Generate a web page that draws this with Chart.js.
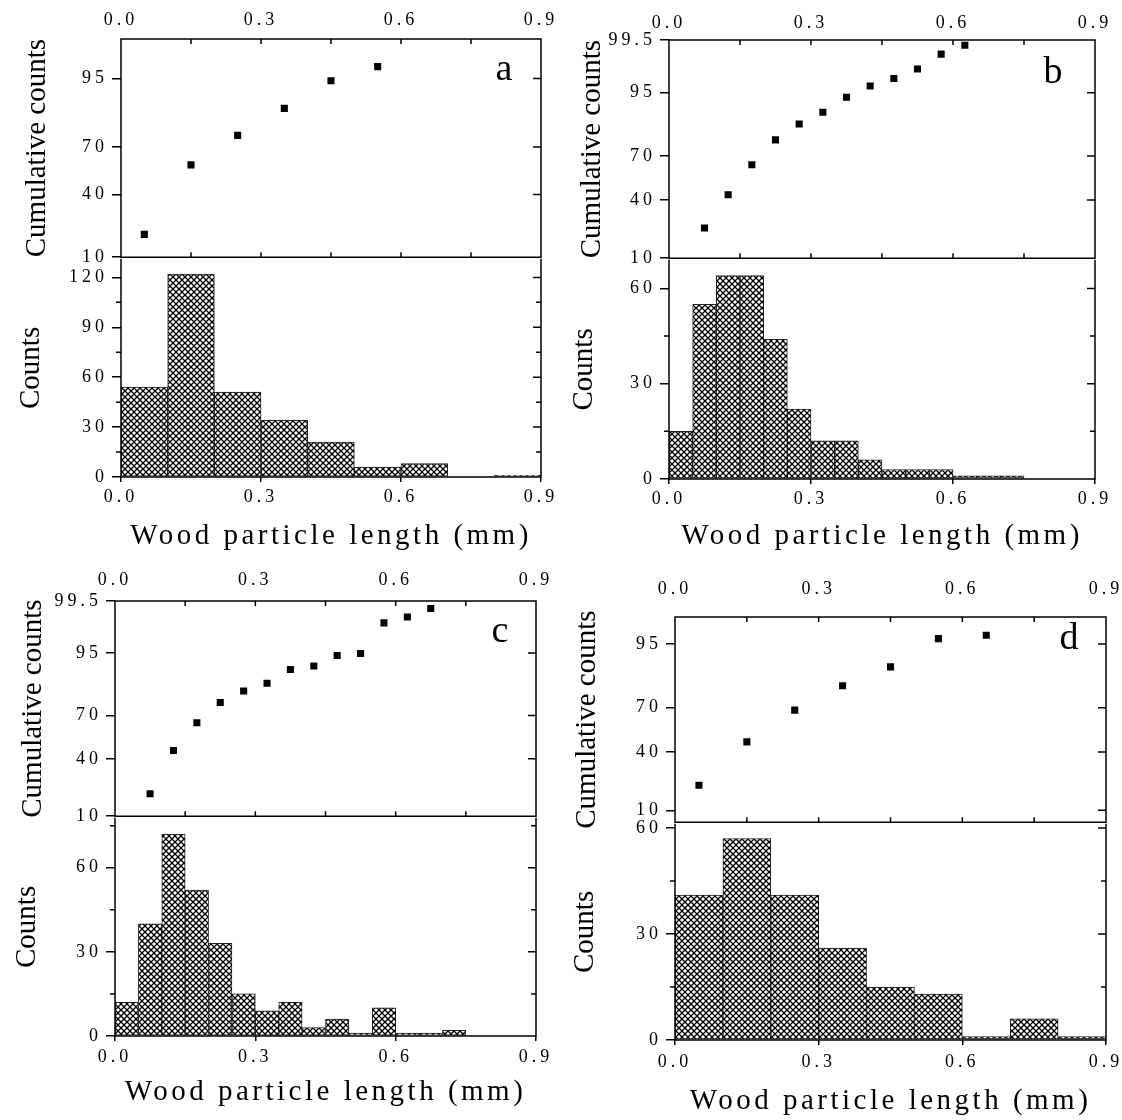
<!DOCTYPE html>
<html>
<head>
<meta charset="utf-8">
<title>Wood particle length</title>
<script src="https://cdn.jsdelivr.net/npm/chart.js@4.4.0/dist/chart.umd.min.js"></script>
<style>
  body { margin: 0; background: #fff; }
  #page { position: relative; width: 1122px; height: 1120px; overflow: hidden; background: #fff; }
  #page canvas { position: absolute; }
</style>
</head>
<body>
<div id="page"></div>
<script>
// axis ticks shared by all four panels
const xTicks = [0, 0.3, 0.6, 0.9]
const xInner = [0.15, 0.3, 0.45, 0.6, 0.75]
const cumTicks = [10, 40, 70, 95, 99.5]

// panel a
const cumXA = [0.05, 0.15, 0.25, 0.35, 0.45, 0.55]
const cumYA = [18.2, 59.1, 76.2, 87.6, 94.6, 96.7]
const binXA = [0.05, 0.15, 0.25, 0.35, 0.45, 0.55, 0.65, 0.75, 0.85]
const countA = [54, 122, 51, 34, 21, 6, 8, 0, 1]
const countTicksA = [0, 30, 60, 90, 120]
const countMinorA = [15, 45, 75, 105]

// panel b
const cumXB = [0.075, 0.125, 0.175, 0.225, 0.275, 0.325, 0.375, 0.425, 0.475, 0.525, 0.575, 0.625]
const cumYB = [22.7, 43.7, 64.4, 79.1, 86.2, 90.3, 94.1, 96.1, 97.1, 98.05, 99.0, 99.35]
const binXB = [0.025, 0.075, 0.125, 0.175, 0.225, 0.275, 0.325, 0.375, 0.425, 0.475, 0.525, 0.575, 0.625, 0.675, 0.725]
const countB = [15, 55, 64, 64, 44, 22, 12, 12, 6, 3, 3, 3, 1, 1, 1]
const countTicksB = [0, 30, 60]
const countMinorB = [15, 45]

// panel c
const cumXC = [0.075, 0.125, 0.175, 0.225, 0.275, 0.325, 0.375, 0.425, 0.475, 0.525, 0.575, 0.625, 0.675]
const cumYC = [19.0, 45.8, 65.3, 77.5, 83.2, 86.5, 91.1, 92.1, 94.5, 94.9, 98.55, 98.9, 99.27]
const binXC = [0.025, 0.075, 0.125, 0.175, 0.225, 0.275, 0.325, 0.375, 0.425, 0.475, 0.525, 0.575, 0.625, 0.675, 0.725]
const countC = [12, 40, 72, 52, 33, 15, 9, 12, 3, 6, 1, 10, 1, 1, 2]
const countTicksC = [0, 30, 60]
const countMinorC = [15, 45, 75]

// panel d
const cumXD = [0.05, 0.15, 0.25, 0.35, 0.45, 0.55, 0.65]
const cumYD = [20.0, 46.9, 68.5, 81.9, 89.3, 95.9, 96.4]
const binXD = [0.05, 0.15, 0.25, 0.35, 0.45, 0.55, 0.65, 0.75, 0.85]
const countD = [41, 57, 41, 26, 15, 13, 1, 6, 1]
const countTicksD = [0, 30, 60]
const countMinorD = [15, 45]

Chart.defaults.font.family = '"Liberation Serif", "Times New Roman", serif'
Chart.defaults.color = '#000'

// inverse normal cdf (Acklam), used by the probability axis
function probit(p) {
    var a = [-39.69683028665376, 220.9460984245205, -275.9285104469687, 138.3577518672690, -30.66479806614716, 2.506628277459239]
    var b = [-54.47609879822406, 161.5858368580409, -155.6989798598866, 66.80131188771972, -13.28068155288572]
    var c = [-0.007784894002430293, -0.3223964580411365, -2.400758277161838, -2.549732539343734, 4.374664141464968, 2.938163982698783]
    var d = [0.007784695709041462, 0.3224671290700398, 2.445134137142996, 3.754408661907416]
    var q, r
    if (p < 0.02425) {
        q = Math.sqrt(-2 * Math.log(p))
        return (((((c[0] * q + c[1]) * q + c[2]) * q + c[3]) * q + c[4]) * q + c[5]) / ((((d[0] * q + d[1]) * q + d[2]) * q + d[3]) * q + 1)
    }
    if (p > 1 - 0.02425) {
        q = Math.sqrt(-2 * Math.log(1 - p))
        return -(((((c[0] * q + c[1]) * q + c[2]) * q + c[3]) * q + c[4]) * q + c[5]) / ((((d[0] * q + d[1]) * q + d[2]) * q + d[3]) * q + 1)
    }
    q = p - 0.5
    r = q * q
    return (((((a[0] * r + a[1]) * r + a[2]) * r + a[3]) * r + a[4]) * r + a[5]) * q / (((((b[0] * r + b[1]) * r + b[2]) * r + b[3]) * r + b[4]) * r + 1)
}

class ProbitScale extends Chart.LinearScale {
    getPixelForValue(value) {
        var lo = probit(this.min / 100), hi = probit(this.max / 100)
        return this.getPixelForDecimal((probit(value / 100) - lo) / (hi - lo))
    }
}
ProbitScale.id = 'probit'
ProbitScale.defaults = {}
Chart.register(ProbitScale)

// spaced-out lettering like the original export
var drawLabels0 = Chart.Scale.prototype.drawLabels
Chart.Scale.prototype.drawLabels = function (area) {
    this.ctx.save()
    this.ctx.letterSpacing = '4px'
    drawLabels0.call(this, area)
    this.ctx.restore()
}
var drawTitle0 = Chart.Scale.prototype.drawTitle
Chart.Scale.prototype.drawTitle = function () {
    this.ctx.save()
    this.ctx.letterSpacing = this.isHorizontal() ? '3.5px' : '0px'
    drawTitle0.call(this)
    this.ctx.restore()
}

// box frame, inward ticks, minor ticks and panel letter
Chart.register({
    id: 'frame',
    afterDraw(chart, args, opts) {
        var ctx = chart.ctx, a = chart.chartArea
        var x = chart.scales.x, y = chart.scales.y
        ctx.save()
        ctx.strokeStyle = '#000'
        ctx.lineWidth = 1.5
        ctx.beginPath()
        // the top edge of a histogram is the bottom edge of the plot above it
        if (opts.noTop) {
            ctx.moveTo(a.left, a.top); ctx.lineTo(a.left, a.bottom)
            ctx.lineTo(a.right, a.bottom); ctx.lineTo(a.right, a.top)
        } else {
            ctx.rect(a.left, a.top, a.right - a.left, a.bottom - a.top)
        }
        y.ticks.forEach(function (t) {
            var py = y.getPixelForValue(t.value)
            ctx.moveTo(a.right, py); ctx.lineTo(a.right - 8, py)
        })
        ;(opts.yMinor || []).forEach(function (v) {
            var py = y.getPixelForValue(v)
            ctx.moveTo(a.left - 5, py); ctx.lineTo(a.left, py)
            ctx.moveTo(a.right, py); ctx.lineTo(a.right - 5, py)
        })
        ;(opts.xInner || []).forEach(function (v) {
            var px = x.getPixelForValue(v)
            ctx.moveTo(px, a.top); ctx.lineTo(px, a.top + 5)
            ctx.moveTo(px, a.bottom); ctx.lineTo(px, a.bottom - 5)
        })
        ctx.stroke()
        if (opts.letter) {
            ctx.font = '38px "Liberation Serif", serif'
            ctx.fillStyle = '#000'
            ctx.textAlign = 'center'
            ctx.textBaseline = 'alphabetic'
            ctx.fillText(opts.letter, a.right - opts.letterDx, a.top + opts.letterDy)
        }
        ctx.restore()
    }
})

function hatch() {
    var c = document.createElement('canvas')
    c.width = 6
    c.height = 6
    var g = c.getContext('2d')
    g.fillStyle = '#fff'
    g.fillRect(0, 0, 6, 6)
    g.strokeStyle = '#000'
    g.lineWidth = 1.3
    g.beginPath()
    g.moveTo(-1, -1); g.lineTo(7, 7)
    g.moveTo(7, -1); g.lineTo(-1, 7)
    g.stroke()
    return g.createPattern(c, 'repeat')
}

function addCanvas(left, top, w, h) {
    var c = document.createElement('canvas')
    c.width = w
    c.height = h
    c.style.left = left + 'px'
    c.style.top = top + 'px'
    c.style.width = w + 'px'
    c.style.height = h + 'px'
    document.getElementById('page').appendChild(c)
    return c.getContext('2d')
}

var tickFont = { size: 18 }
var tickMarks = (len) => ({ display: true, drawOnChartArea: false, drawTicks: true, tickLength: len, color: '#000', lineWidth: 1.5, offset: false })

function makePanel(p) {
    // upper plot: cumulative counts on a probability axis
    var Wt = Math.round(p.gapTop + 17.4), Ht = 40
    var ctx = addCanvas(p.L - Wt, p.T - Ht, Wt + (p.R - p.L) + 30, Ht + (p.M - p.T) + 14)
    new Chart(ctx, {
        type: 'scatter',
        data: {
            datasets: [{
                data: p.cumX.map((v, i) => ({ x: v, y: p.cumY[i] })),
                pointStyle: 'rect',
                pointRadius: 5,
                backgroundColor: '#000',
                borderWidth: 0
            }]
        },
        options: {
            responsive: false, animation: false, events: [], devicePixelRatio: 1,
            layout: { padding: { left: 0, top: 0, right: 30, bottom: 14 } },
            plugins: {
                legend: { display: false }, tooltip: { enabled: false },
                frame: { xInner: xInner, letter: p.letter, letterDx: p.letterDx, letterDy: p.letterDy }
            },
            scales: {
                x: {
                    type: 'linear', position: 'top', min: 0, max: 0.9, bounds: 'data',
                    afterBuildTicks: s => { s.ticks = xTicks.map(v => ({ value: v })) },
                    afterFit: s => { s.height = Ht },
                    grid: { display: false, drawTicks: false }, border: { display: false },
                    ticks: { padding: p.topPad, font: tickFont, autoSkip: false, maxRotation: 0, callback: v => v.toFixed(1) }
                },
                y: {
                    type: 'probit', min: p.cumMin, max: p.cumMax, bounds: 'data',
                    afterBuildTicks: s => { s.ticks = cumTicks.filter(v => v >= s.min && v <= s.max).map(v => ({ value: v })) },
                    afterFit: s => { s.width = Wt },
                    grid: tickMarks(9), border: { display: false },
                    ticks: { padding: 4, font: tickFont, autoSkip: false, callback: v => String(v) },
                    title: { display: true, text: 'Cumulative counts', font: { size: 29 }, padding: 0 }
                }
            }
        }
    })

    // lower plot: histogram of counts
    var Wb = Math.round(p.gapBot + 17.4), Hb = Math.round(p.titleOff + 17.4)
    var ctx2 = addCanvas(p.L - Wb, p.M - 14, Wb + (p.R - p.L) + 30, 14 + (p.B - p.M) + Hb)
    new Chart(ctx2, {
        type: 'bar',
        data: {
            datasets: [{
                data: p.binX.map((v, i) => ({ x: v, y: p.counts[i] })),
                backgroundColor: hatch(),
                borderColor: '#222',
                borderWidth: 1,
                borderSkipped: false,
                barPercentage: 1,
                categoryPercentage: 1
            }]
        },
        options: {
            responsive: false, animation: false, events: [], devicePixelRatio: 1,
            layout: { padding: { left: 0, top: 14, right: 30, bottom: 0 } },
            plugins: {
                legend: { display: false }, tooltip: { enabled: false },
                frame: { yMinor: p.countMinor, noTop: true }
            },
            scales: {
                x: {
                    type: 'linear', position: 'bottom', min: 0, max: 0.9, bounds: 'data', offset: false,
                    afterBuildTicks: s => { s.ticks = xTicks.map(v => ({ value: v })) },
                    afterFit: s => { s.height = Hb },
                    grid: tickMarks(5), border: { display: false },
                    ticks: { padding: p.tickPad, font: tickFont, autoSkip: false, maxRotation: 0, callback: v => v.toFixed(1) },
                    title: { display: true, text: 'Wood particle length (mm)', font: { size: 29 }, padding: 0 }
                },
                y: {
                    type: 'linear', min: 0, max: p.countMax, bounds: 'data',
                    afterBuildTicks: s => { s.ticks = p.countTicks.map(v => ({ value: v })) },
                    afterFit: s => { s.width = Wb },
                    grid: tickMarks(9), border: { display: false },
                    ticks: { padding: 4, font: tickFont, autoSkip: false, callback: v => String(v) },
                    title: { display: true, text: 'Counts', font: { size: 29 }, padding: 0 }
                }
            }
        }
    })
}

makePanel({ L: 121, R: 541, T: 39, M: 258, B: 477, letter: 'a', letterDx: 37, letterDy: 41,
    cumX: cumXA, cumY: cumYA, cumMin: 10, cumMax: 98.9,
    binX: binXA, counts: countA, countMax: 131.2, countTicks: countTicksA, countMinor: countMinorA,
    topPad: 8, gapTop: 84, gapBot: 90, tickPad: 4.5, titleOff: 60 })

makePanel({ L: 669, R: 1095, T: 40, M: 259, B: 479, letter: 'b', letterDx: 42, letterDy: 43,
    cumX: cumXB, cumY: cumYB, cumMin: 10, cumMax: 99.5,
    binX: binXB, counts: countB, countMax: 69, countTicks: countTicksB, countMinor: countMinorB,
    topPad: 6, gapTop: 77, gapBot: 85, tickPad: 4, titleOff: 58 })

makePanel({ L: 115, R: 536, T: 601, M: 817, B: 1036, letter: 'c', letterDx: 36, letterDy: 41,
    cumX: cumXC, cumY: cumYC, cumMin: 10, cumMax: 99.5,
    binX: binXC, counts: countC, countMax: 77.8, countTicks: countTicksC, countMinor: countMinorC,
    topPad: 9.5, gapTop: 82, gapBot: 88, tickPad: 5, titleOff: 57 })

makePanel({ L: 675, R: 1106, T: 617, M: 823, B: 1040, letter: 'd', letterDx: 37, letterDy: 32,
    cumX: cumXD, cumY: cumYD, cumMin: 6.8, cumMax: 98.3,
    binX: binXD, counts: countD, countMax: 61.2, countTicks: countTicksD, countMinor: countMinorD,
    topPad: 16.5, gapTop: 88, gapBot: 90, tickPad: 6.5, titleOff: 62 })
</script>
</body>
</html>
